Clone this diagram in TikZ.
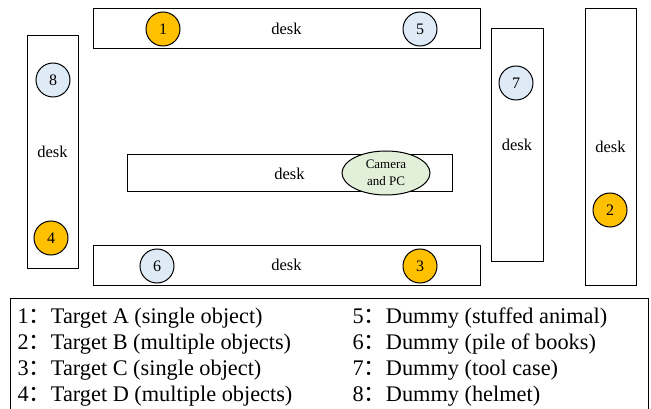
\documentclass[tikz,border=0pt]{standalone}
\usepackage{fontspec}
\setmainfont{Liberation Serif}
\newfontfamily\cjk{Noto Sans CJK SC}
\usetikzlibrary{shapes.geometric}
\newcommand{\colonsep}{{\cjk ：}}
\definecolor{orangeT}{HTML}{FFC000}
\definecolor{blueD}{HTML}{DEEBF7}
\definecolor{greenC}{HTML}{E2F0D9}

\begin{document}
\begin{tikzpicture}[x=1pt,y=-1pt,line width=1pt,
  desk/.style={draw,rectangle,inner sep=0pt,font=\fontsize{16.5}{18}\selectfont},
  target/.style={draw,circle,fill=orangeT,minimum size=34pt,inner sep=0pt,font=\fontsize{16}{18}\selectfont},
  dummy/.style={draw,circle,fill=blueD,minimum size=34pt,inner sep=0pt,font=\fontsize{16}{18}\selectfont},
  keytext/.style={anchor=west,inner sep=0pt,font=\fontsize{22.3}{24}\selectfont}]
  \useasboundingbox (0,0) rectangle (651,409);
  % desks
  \node[desk,minimum width=387pt,minimum height=40pt] (deskT) at (286.5,29) {desk};
  \node[desk,minimum width=51pt,minimum height=232pt] (deskL) at (52.5,152) {desk};
  \node[desk,minimum width=325pt,minimum height=37pt] (deskM) at (289.5,173.5) {desk};
  \node[desk,minimum width=387pt,minimum height=40pt] (deskB) at (286.5,265) {desk};
  \node[desk,minimum width=52pt,minimum height=232pt] (deskR) at (517,145) {desk};
  \node[desk,minimum width=51pt,minimum height=276pt] (deskRR) at (610.5,147) {desk};
  % camera
  \node[draw,ellipse,fill=greenC,minimum width=88pt,minimum height=44pt,inner sep=0pt,
    align=center,font=\fontsize{13}{17}\selectfont] (cam) at (386,173) {Camera\\and PC};
  % targets
  \node[target] (t1) at (163,29) {1};
  \node[target] (t2) at (610,210) {2};
  \node[target] (t3) at (420,266) {3};
  \node[target] (t4) at (51,238) {4};
  % dummies
  \node[dummy] (d5) at (420,29) {5};
  \node[dummy] (d6) at (157,266) {6};
  \node[dummy] (d7) at (516,83) {7};
  \node[dummy] (d8) at (53,80) {8};
  % legend
  \draw (10,298) rectangle (648,430);
  \node[keytext] (k1) at (17,318) {1\colonsep Target A (single object)};
  \node[keytext] (k2) at (17,344) {2\colonsep Target B (multiple objects)};
  \node[keytext] (k3) at (17,370) {3\colonsep Target C (single object)};
  \node[keytext] (k4) at (17,396) {4\colonsep Target D (multiple objects)};
  \node[keytext] (k5) at (352,318) {5\colonsep Dummy (stuffed animal)};
  \node[keytext] (k6) at (352,344) {6\colonsep Dummy (pile of books)};
  \node[keytext] (k7) at (352,370) {7\colonsep Dummy (tool case)};
  \node[keytext] (k8) at (352,396) {8\colonsep Dummy (helmet)};
\end{tikzpicture}
\end{document}
